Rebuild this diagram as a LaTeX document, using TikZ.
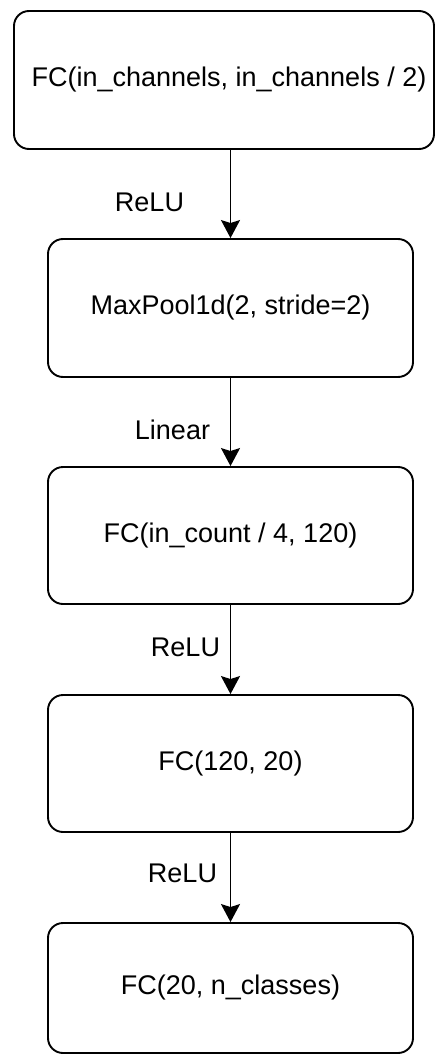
\documentclass[tikz,border=0pt]{standalone}
\usepackage{fontspec}
\setmainfont{Liberation Sans}
\usetikzlibrary{arrows.meta}
\begin{document}
\begin{tikzpicture}[x=1pt,y=-1pt,
  box/.style={draw=black,line width=1.9pt,rounded corners=15pt,fill=white,
    minimum width=365pt,minimum height=138pt,inner sep=0pt,
    font=\fontsize{27}{32}\selectfont},
  lbl/.style={font=\fontsize{27}{32}\selectfont,inner sep=0pt},
  conn/.style={line width=1.9pt,-{Stealth[length=18pt,width=19pt,inset=3pt]}}]
\useasboundingbox (0,0) rectangle (436,1056);
\node[box,minimum width=420pt] (b1) at (224,80) {\hspace*{10pt}FC(in\_channels, in\_channels / 2)};
\node[box] (b2) at (230.5,308) {MaxPool1d(2, stride=2)};
\node[box,minimum height=137pt] (b3) at (230.5,535.5) {FC(in\_count / 4, 120)};
\node[box,minimum height=137pt] (b4) at (230.5,763.5) {FC(120, 20)};
\node[box,minimum height=130pt] (b5) at (230.5,988) {FC(20, n\_classes)};
\draw[conn] (b1.south -| b2.north) -- node[lbl,pos=0.6,xshift=-81pt] {ReLU} (b2.north);
\draw[conn] (b2.south) -- node[lbl,pos=0.59,xshift=-58pt] {Linear} (b3.north);
\draw[conn] (b3.south) -- node[lbl,pos=0.48,xshift=-45pt] {ReLU} (b4.north);
\draw[conn] (b4.south) -- node[lbl,pos=0.45,xshift=-48pt] {ReLU} (b5.north);
\end{tikzpicture}
\end{document}
